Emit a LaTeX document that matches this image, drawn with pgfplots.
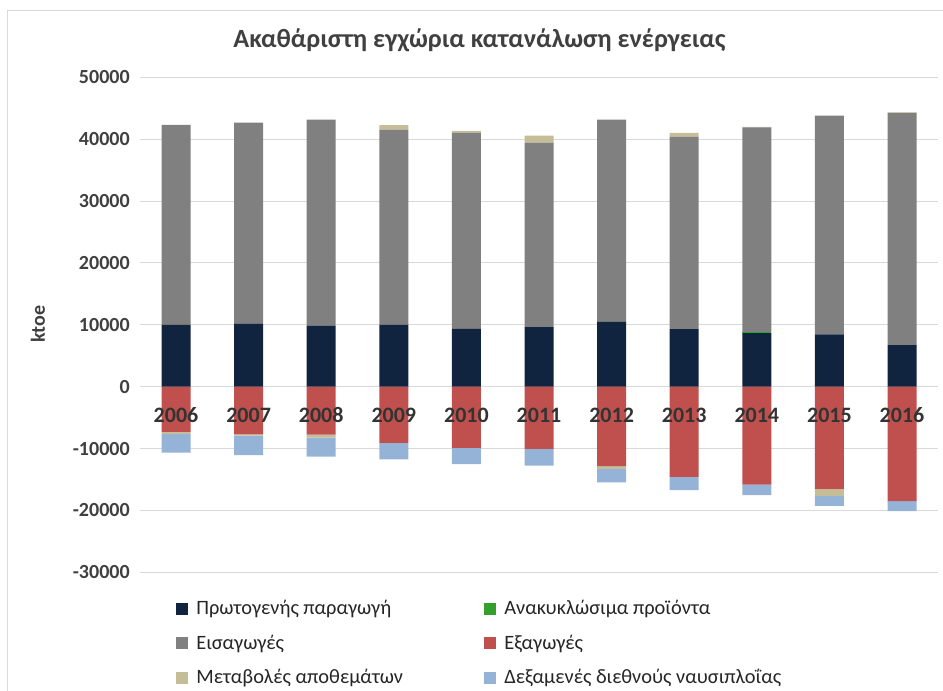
\documentclass[border=0pt]{standalone}
\usepackage{pgfplots}
\pgfplotsset{compat=1.18}
\usepackage{pgfplotstable}
\usepackage{fontspec}
\setmainfont{Carlito}
\definecolor{prod}{HTML}{10243F}
\definecolor{recy}{HTML}{33A02C}
\definecolor{impo}{HTML}{808080}
\definecolor{expo}{HTML}{C0504D}
\definecolor{stoc}{HTML}{C4BD97}
\definecolor{bunk}{HTML}{95B3D7}
\definecolor{txt}{HTML}{404040}
\definecolor{grd}{HTML}{D9D9D9}

\pgfplotsset{
  mygeom/.style={
    at={(104.78pt,-429.23pt)}, anchor=south west,
    scale only axis, width=598.95pt, height=371.25pt,
    xmin=-0.5, xmax=10.5, ymin=-30000, ymax=50000,
    axis x line=middle, axis y line=left,
    axis line style={draw=none,-},
    major tick length=0pt,
  }
}

\pgfplotstableread{
x exports stockneg bunkers production recycl imports stockpos
0  -7320   -330 -3000 10000   0 32300    0
1  -7690   -210 -3180 10160   0 32520    0
2  -7740   -490 -3060  9840   0 33320    0
3  -9100      0 -2630 10000   0 31550  710
4  -9900      0 -2630  9350   0 31710  280
5 -10060      0 -2680  9610   0 29840 1130
6 -12850   -440 -2190 10480   0 32680    0
7 -14580      0 -2150  9290   0 31130  600
8 -15810      0 -1720  8660 100 33150  100
9 -16520  -1130 -1610  8440   0 35370    0
10 -18500     0 -1610  6710   0 37540  100
}\data

\begin{document}
\begin{tikzpicture}
\useasboundingbox (0,0) rectangle (707.25pt,-518.25pt);
\draw[grd, line width=0.6pt] (5.5pt,-8pt) rectangle (730pt,-540pt);
\node[font=\bfseries\fontsize{19.7pt}{23pt}\selectfont, text=txt] at (359.6pt,-30pt) {Ακαθάριστη εγχώρια κατανάλωση ενέργειας};
\node[font=\bfseries\fontsize{15pt}{18pt}\selectfont, text=txt, rotate=90] at (28.5pt,-243pt) {ktoe};
\begin{axis}[
  mygeom,
  ybar stacked, bar width=21.75pt,
  ytick={-30000,-20000,...,50000},
  scaled y ticks=false,
  xtick={0,...,10},
  xticklabels={},
  ymajorgrids, grid style={grd, line width=0.75pt},
  /pgf/number format/assume math mode=true,
  /pgf/number format/1000 sep={},
  yticklabel style={font=\bfseries\fontsize{15pt}{18pt}\selectfont, text=txt, xshift=-4pt},
  every axis plot/.append style={draw=none},
  legend image code/.code={\fill[#1] (0pt,-4.5pt) rectangle (9pt,4.5pt);},
  legend columns=2,
  legend style={at={(0.0455,-0.038)}, anchor=north west, draw=none, fill=none, inner sep=0pt,
    font=\fontsize{15.3pt}{18pt}\selectfont, text=black!85,
    nodes={inner sep=0pt, minimum height=25.9pt},
    /tikz/every odd column/.append style={column sep=6pt}},
  legend cell align=left,
]
\addplot[fill=prod, forget plot] table[x=x, y=production] {\data};
\addplot[fill=recy, forget plot] table[x=x, y=recycl] {\data};
\addplot[fill=impo, forget plot] table[x=x, y=imports] {\data};
\addplot[fill=stoc, forget plot] table[x=x, y=stockpos] {\data};
\addplot[fill=expo, forget plot] table[x=x, y=exports] {\data};
\addplot[fill=stoc, forget plot] table[x=x, y=stockneg] {\data};
\addplot[fill=bunk, forget plot] table[x=x, y=bunkers] {\data};
\addlegendimage{fill=prod}\addlegendentry{\makebox[216pt][l]{Πρωτογενής παραγωγή}}
\addlegendimage{fill=recy}\addlegendentry{Ανακυκλώσιμα προϊόντα}
\addlegendimage{fill=impo}\addlegendentry{\makebox[216pt][l]{Εισαγωγές}}
\addlegendimage{fill=expo}\addlegendentry{Εξαγωγές}
\addlegendimage{fill=stoc}\addlegendentry{\makebox[216pt][l]{Μεταβολές αποθεμάτων}}
\addlegendimage{fill=bunk}\addlegendentry{Δεξαμενές διεθνούς ναυσιπλοΐας}
\end{axis}
\begin{axis}[
  mygeom,
  ytick=\empty,
  xtick={0,...,10},
  xticklabels={2006,2007,2008,2009,2010,2011,2012,2013,2014,2015,2016},
  xticklabel style={font=\bfseries\fontsize{16.5pt}{18pt}\selectfont, text=black!80,
    anchor=north, inner sep=0pt, text height=10.4pt, text depth=0pt, yshift=-16.5pt},
]
\end{axis}
\end{tikzpicture}
\end{document}
